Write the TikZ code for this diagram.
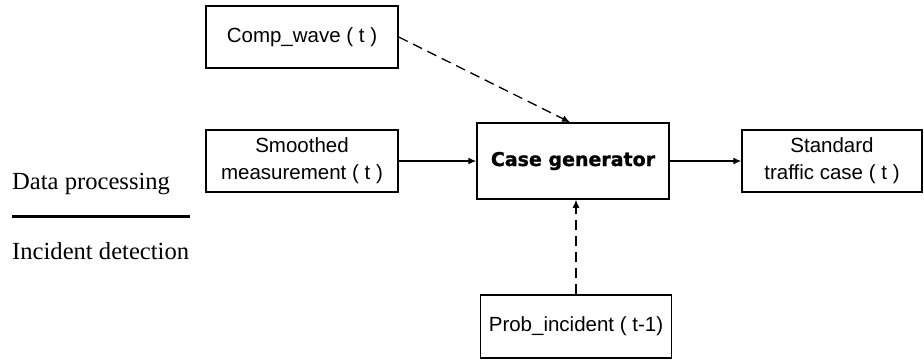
\documentclass[tikz,border=0pt]{standalone}
\usepackage{fontspec}
\setmainfont{Liberation Serif}
\newfontfamily\boxfont{Liberation Sans}
\newfontfamily\heavyfont[FakeBold=1.2]{DejaVu Sans Bold}
\usetikzlibrary{arrows.meta}
\begin{document}
\begin{tikzpicture}[x=1pt,y=-1pt,
  box/.style={draw=black,line width=1.5pt,minimum width=#1,inner sep=0pt,align=center,
    font=\boxfont\fontsize{20.5}{27}\selectfont},
  conn/.style={line width=1.3pt,-{Latex[length=8pt,width=7pt]}},
  dconn/.style={conn,dash pattern=on 10pt off 6pt},
  side/.style={anchor=base west,inner sep=0pt,font=\fontsize{24.6}{28}\selectfont}]
\useasboundingbox (0,0) rectangle (924,360);
\node[box=192pt,minimum height=62pt] (comp) at (302,37) {Comp\_wave ( t )};
\node[box=192pt,minimum height=62pt] (smooth) at (302,161) {Smoothed\\measurement ( t )};
\node[box=192pt,minimum height=76pt,font=\heavyfont\fontsize{19}{23}\selectfont] (case) at (573,161) {Case generator};
\node[box=180pt,minimum height=62pt] (std) at (832,161) {Standard\\traffic case ( t )};
\node[box=191pt,minimum height=63pt] (prob) at (576,326.5) {Prob\_incident ( t-1)};
\node[side] (dp) at (12,189) {Data processing};
\node[side] (id) at (12,259) {Incident detection};
\coordinate (sl) at (12,216);
\coordinate (sr) at (190,216);
\draw[line width=3pt] (sl) -- (sr);
\draw[dconn] (comp.east) -- ([xshift=-3pt]case.north);
\draw[conn] (smooth.east) -- (case.west);
\draw[conn] (case.east) -- (std.west);
\draw[dconn] (prob.north) -- (prob.north |- case.south);
\end{tikzpicture}
\end{document}
